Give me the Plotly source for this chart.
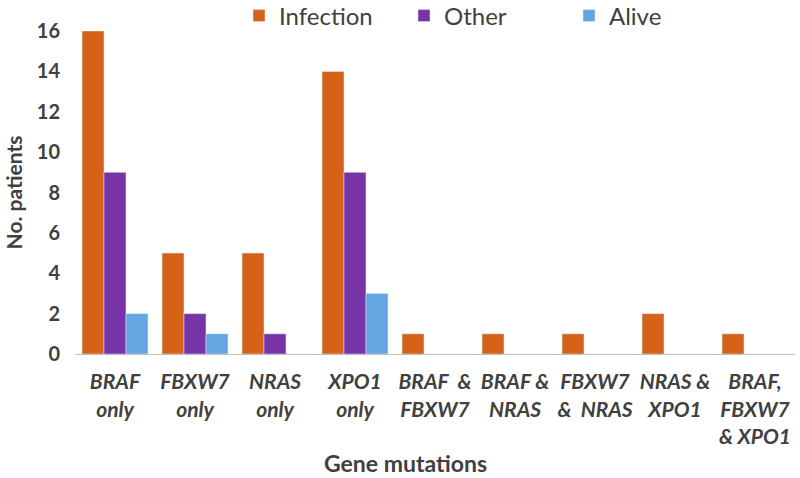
import plotly.graph_objects as go

categories = ["BRAF<br>only", "FBXW7<br>only", "NRAS<br>only", "XPO1<br>only",
              "BRAF  &<br>FBXW7", "BRAF &<br>NRAS", "FBXW7<br>&  NRAS",
              "NRAS &<br>XPO1", "BRAF,<br>FBXW7<br>& XPO1"]
infection = [16, 5, 5, 14, 1, 1, 1, 2, 1]
other = [9, 2, 1, 9, 0, 0, 0, 0, 0]
alive = [2, 1, 0, 3, 0, 0, 0, 0, 0]
y_ticks = [0, 2, 4, 6, 8, 10, 12, 14, 16]

FONT = "Lato, 'Open Sans', sans-serif"
TXT = "#404040"

fig = go.Figure()
fig.add_bar(x=categories, y=infection, name="Infection", marker_color="#D6621A")
fig.add_bar(x=categories, y=other, name="Other", marker_color="#7634A8")
fig.add_bar(x=categories, y=alive, name="Alive", marker_color="#63A6E2")

fig.update_layout(
    width=800, height=478,
    barmode="group", bargap=0.175, bargroupgap=0,
    plot_bgcolor="white", paper_bgcolor="white",
    margin=dict(l=75, r=5, t=31, b=124, autoexpand=False),
    font=dict(family=FONT, color=TXT),
    legend=dict(orientation="h", x=(239 - 75) / 720, xanchor="left",
                y=1 + (31 - 16) / 323, yanchor="middle",
                font=dict(size=24, color=TXT), entrywidth=120, entrywidthmode="pixels",
                bgcolor="rgba(0,0,0,0)"),
    xaxis=dict(showline=True, linecolor="#BFBFBF", linewidth=1, ticks="",
               ticklabelstandoff=9,
               tickfont=dict(size=21, color=TXT, weight="bold", style="italic")),
    yaxis=dict(range=[0, 16], tickvals=y_ticks, showgrid=False, zeroline=False,
               showline=False, ticks="", ticklen=0, ticklabelstandoff=14,
               tickfont=dict(size=20, color=TXT, weight="bold"),
               title=dict(text="No. patients", font=dict(size=21, color=TXT, weight="bold"),
                          standoff=8)),
    annotations=[dict(text="Gene mutations", xref="paper", yref="paper",
                      x=(405 - 75) / 720, y=(354 - 463) / 323,
                      xanchor="center", yanchor="middle", showarrow=False,
                      font=dict(size=23, color=TXT, weight="bold"))],
)

fig.write_html("out.html", config={"displayModeBar": False},
               post_script="document.body.style.margin='0';")
